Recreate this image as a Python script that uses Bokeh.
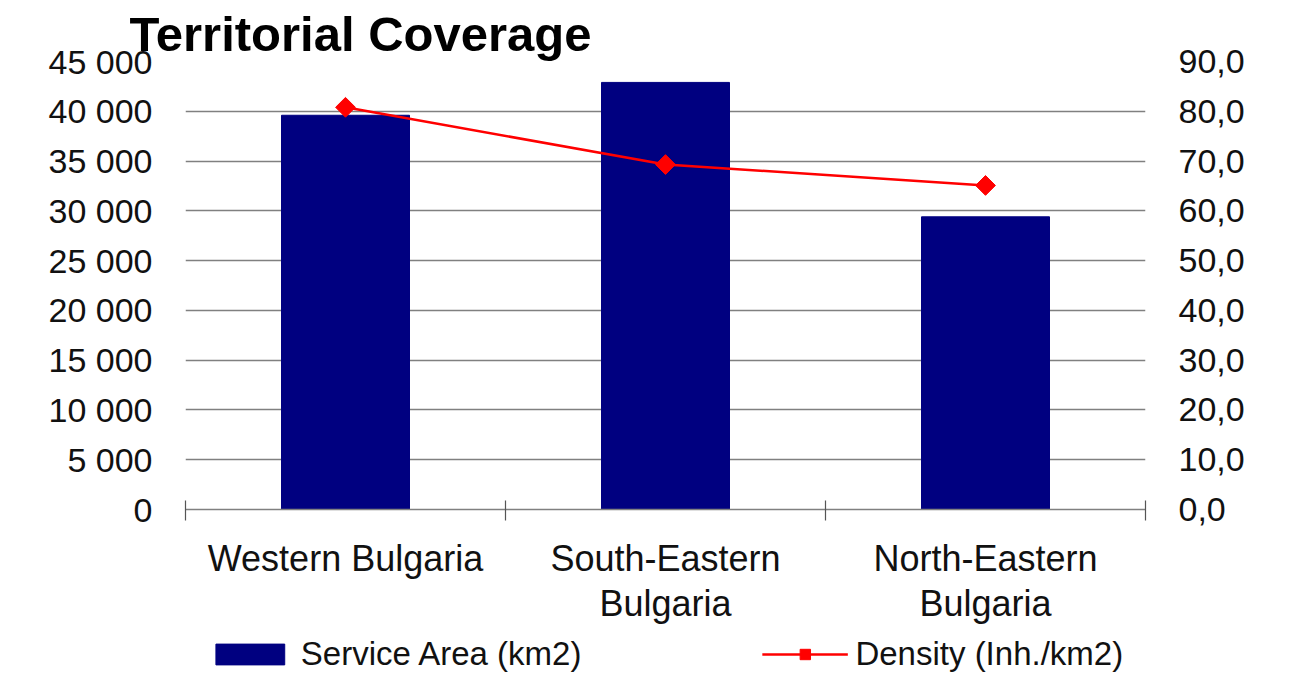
import math
from bokeh.plotting import figure
from bokeh.layouts import column
from bokeh.models import (FactorRange, Range1d, LinearAxis, FixedTicker,
                          Grid, Legend, LegendItem)
from bokeh.embed import file_html
from bokeh.resources import INLINE

# ---- data ----
categories = ["Western Bulgaria", "South-Eastern Bulgaria", "North-Eastern Bulgaria"]
category_labels = ["Western Bulgaria", "South-Eastern\nBulgaria", "North-Eastern\nBulgaria"]
service_area = [39600, 42900, 29400]
density = [80.8, 69.3, 65.1]
left_ticks = [0, 5000, 10000, 15000, 20000, 25000, 30000, 35000, 40000, 45000]
left_tick_labels = ["0", "5 000", "10 000", "15 000", "20 000", "25 000", "30 000", "35 000", "40 000", "45 000"]
right_ticks = [0, 10, 20, 30, 40, 50, 60, 70, 80, 90]
right_tick_labels = ["0,0", "10,0", "20,0", "30,0", "40,0", "50,0", "60,0", "70,0", "80,0", "90,0"]
title_text = "Territorial Coverage"
series_names = ["Service Area (km2)", "Density (Inh./km2)"]

FONT = "Liberation Sans"
TXT = "#111111"
BAR = "#000080"
RED = "#FF0000"

x_range = FactorRange(*categories, range_padding=0)

p = figure(frame_width=960, frame_height=448, output_backend="svg", toolbar_location=None,
           x_range=x_range, y_range=Range1d(0, 45000),
           x_axis_location=None, y_axis_location=None,
           min_border_left=185, min_border_right=143, min_border_top=61, min_border_bottom=116)
p.extra_y_ranges = {"density": Range1d(0, 90)}
p.outline_line_color = None
p.background_fill_color = "white"
p.border_fill_color = "white"
p.xgrid.visible = False
p.ygrid.visible = False

# title
p.title.text = title_text
p.title.align = "left"
p.title.offset = -56
p.title.standoff = 2
p.title.text_font = FONT
p.title.text_font_style = "bold"
p.title.text_font_size = "49px"
p.title.text_color = "#000000"

# left / right value axes
la = LinearAxis(ticker=FixedTicker(ticks=left_ticks),
                major_label_overrides=dict(zip(left_ticks, left_tick_labels)))
ra = LinearAxis(y_range_name="density", ticker=FixedTicker(ticks=right_ticks),
                major_label_overrides=dict(zip(right_ticks, right_tick_labels)))
for ax in (la, ra):
    ax.axis_line_color = None
    ax.major_tick_line_color = None
    ax.minor_tick_line_color = None
    ax.major_tick_in = 0
    ax.major_tick_out = 0
    ax.major_label_standoff = 33
    ax.major_label_text_font = FONT
    ax.major_label_text_font_size = "34px"
    ax.major_label_text_color = TXT
p.add_layout(la, "left")
p.add_layout(ra, "right")

# category axes (synthetic coordinates: centre of factor i is i + 0.5, boundaries at integers)
n = len(categories)
centers = [i + 0.5 for i in range(n)]
bounds = [float(i) for i in range(n + 1)]
line1 = [lbl.split("\n")[0] for lbl in category_labels]
line2_pos = [c for c, lbl in zip(centers, category_labels) if "\n" in lbl]
line2 = [lbl.split("\n")[1] for lbl in category_labels if "\n" in lbl]

xa1 = LinearAxis(ticker=FixedTicker(ticks=centers, minor_ticks=bounds),
                 major_label_overrides=dict(zip(centers, line1)))
xa1.axis_line_color = "#808080"
xa1.axis_line_width = 1.5
xa1.major_tick_line_color = None
xa1.major_tick_in = 0
xa1.major_tick_out = 0
xa1.minor_tick_line_color = "#555555"
xa1.minor_tick_line_width = 1.2
xa1.minor_tick_in = 9
xa1.minor_tick_out = 11
xa1.major_label_standoff = 17
xa1.major_label_text_font = FONT
xa1.major_label_text_font_size = "36px"
xa1.major_label_text_color = TXT
p.add_layout(xa1, "below")

xa2 = LinearAxis(ticker=FixedTicker(ticks=line2_pos, minor_ticks=[]),
                 major_label_overrides=dict(zip(line2_pos, line2)))
xa2.axis_line_color = None
xa2.major_tick_line_color = None
xa2.minor_tick_line_color = None
xa2.major_tick_in = 0
xa2.major_tick_out = 0
xa2.major_label_standoff = 1
xa2.major_label_text_font = FONT
xa2.major_label_text_font_size = "36px"
xa2.major_label_text_color = TXT
p.add_layout(xa2, "below")

# horizontal grid
p.add_layout(Grid(dimension=1, ticker=la.ticker, grid_line_color="#808080", grid_line_width=1.3))

# data marks
bars = p.vbar(x=categories, top=service_area, width=0.4, fill_color=BAR, line_color=BAR)
ln = p.line(x=categories, y=density, y_range_name="density", line_color=RED, line_width=2.5)
mk = p.scatter(x=categories, y=density, y_range_name="density", marker="square",
               angle=math.pi / 4, size=14, fill_color=RED, line_color=RED)

# ---- legend strip (separate figure so the legend is not clipped by the chart frame) ----
lg = figure(width=1288, height=56, output_backend="svg", toolbar_location=None,
            x_range=x_range, y_range=Range1d(0, 45000),
            x_axis_location=None, y_axis_location=None,
            min_border_left=0, min_border_right=0, min_border_top=0, min_border_bottom=0)
lg.extra_y_ranges = {"density": Range1d(0, 90)}
lg.outline_line_color = None
lg.xgrid.visible = False
lg.ygrid.visible = False
lbars = lg.vbar(x=categories, top=service_area, width=0.4, fill_color=BAR, line_color=BAR, visible=False)
lln = lg.line(x=categories, y=density, y_range_name="density", line_color=RED, line_width=2.5, visible=False)
lmk = lg.scatter(x=categories, y=density, y_range_name="density", marker="square",
                 angle=math.pi / 4, size=14, fill_color=RED, line_color=RED, visible=False)

legend = Legend(items=[LegendItem(label=series_names[0], renderers=[lbars]),
                       LegendItem(label=series_names[1], renderers=[lln, lmk])],
                location="center", orientation="horizontal",
                padding=0, margin=0, spacing=180, border_line_color=None,
                background_fill_alpha=0, inactive_fill_alpha=0,
                glyph_width=86, glyph_height=26,
                label_standoff=8, label_text_font=FONT, label_text_font_size="33px",
                label_text_color=TXT, label_text_baseline="middle")
lg.add_layout(legend)

open("out.html", "w").write(file_html(column(p, lg, spacing=0), INLINE))
